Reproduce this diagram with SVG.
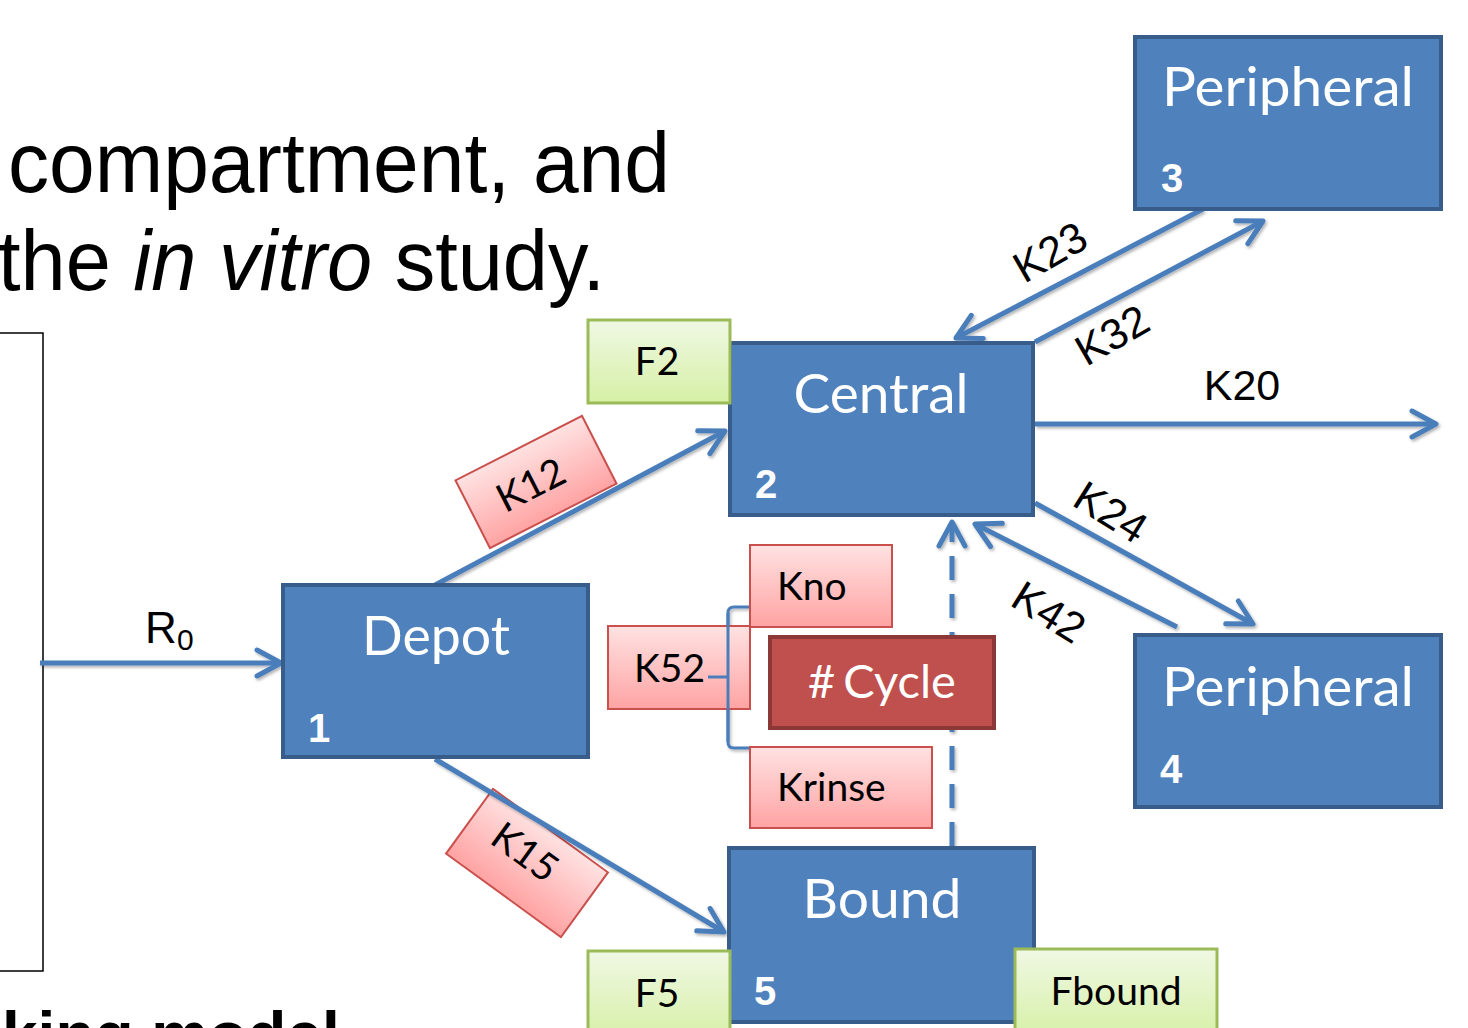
<svg xmlns="http://www.w3.org/2000/svg" width="1468" height="1028" viewBox="0 0 1468 1028">
<defs>
  <linearGradient id="gGreen" x1="0" y1="0" x2="0" y2="1">
    <stop offset="0" stop-color="#F0F8E4"/>
    <stop offset="1" stop-color="#D6F0A6"/>
  </linearGradient>
  <linearGradient id="gPink" x1="0" y1="0" x2="0" y2="1">
    <stop offset="0" stop-color="#FFE2E2"/>
    <stop offset="1" stop-color="#FFA3A3"/>
  </linearGradient>
  <filter id="shadow" x="-10%" y="-10%" width="130%" height="130%">
    <feDropShadow dx="1.5" dy="2" stdDeviation="1.5" flood-color="#000" flood-opacity="0.3"/>
  </filter>
  <marker id="arrow" markerUnits="userSpaceOnUse" markerWidth="40" markerHeight="40" viewBox="-30 -20 40 40" refX="0" refY="0" orient="auto">
    <path d="M-24,-13 L0,0 L-24,13" fill="none" stroke="#4A7EBB" stroke-width="5" stroke-linecap="round" stroke-linejoin="round"/>
  </marker>
</defs>
<style>
  .blue rect { fill:#4F81BD; stroke:#385D8A; stroke-width:4; }
  .title { font-family:"Lato","Open Sans",sans-serif; font-size:54px; fill:#fff; text-anchor:middle; }
  .num { font-family:"Liberation Sans",Arial,sans-serif; font-weight:bold; font-size:40px; fill:#fff; }
  .green rect { fill:url(#gGreen); stroke:#9BBB59; stroke-width:3; }
  .pink rect { fill:url(#gPink); stroke:#C9504D; stroke-width:2; }
  .lbl { font-family:"Lato","Open Sans",sans-serif; font-size:39px; fill:#000; }
  .ar { font-family:"Liberation Sans",Arial,sans-serif; font-size:43px; fill:#000; }
  .big { font-family:"Liberation Sans",Arial,sans-serif; font-size:85px; fill:#000; }
  .conn path, .conn line { fill:none; stroke:#4A7EBB; stroke-width:5; }
  .dash { stroke-dasharray:24 14; }
</style>
<rect x="0" y="0" width="1468" height="1028" fill="#fff"/>

<g id="heading">
  <text class="big" x="8" y="192" textLength="662" lengthAdjust="spacingAndGlyphs">compartment, and</text>
  <text class="big" x="-2" y="290" textLength="607" lengthAdjust="spacingAndGlyphs">the <tspan font-style="italic">in vitro</tspan> study.</text>
  <text x="2" y="1057" font-family="Liberation Sans, Arial, sans-serif" font-weight="bold" font-size="64" fill="#000">king model</text>
</g>

<g id="frame" fill="none" stroke="#000" stroke-width="1.5">
  <path d="M0,333 H43 V971 H0"/>
</g>

<g id="k12" class="pink" transform="translate(536,482) rotate(-27)">
  <rect x="-71" y="-38" width="142" height="76"/>
  <text class="lbl" x="-6" y="14" text-anchor="middle">K12</text>
</g>
<g id="k15" class="pink" transform="translate(527,863) rotate(36)">
  <rect x="-71" y="-40" width="142" height="80"/>
  <text class="lbl" x="-8" y="6" text-anchor="middle">K15</text>
</g>

<g id="connectors" class="conn" filter="url(#shadow)">
  <line x1="40" y1="663" x2="281" y2="663" marker-end="url(#arrow)"/>
  <line x1="435" y1="585" x2="725" y2="431" marker-end="url(#arrow)"/>
  <line x1="435" y1="759" x2="724" y2="932" marker-end="url(#arrow)"/>
  <line x1="1203" y1="209" x2="956" y2="338" marker-end="url(#arrow)"/>
  <line x1="1035" y1="342" x2="1263" y2="221" marker-end="url(#arrow)"/>
  <line x1="1035" y1="424" x2="1436" y2="424" marker-end="url(#arrow)"/>
  <line x1="1035" y1="503" x2="1253" y2="624" marker-end="url(#arrow)"/>
  <line x1="1177" y1="627" x2="975" y2="524" marker-end="url(#arrow)"/>
  <path class="dash" d="M952,846 V522" marker-end="url(#arrow)"/>
  <path d="M708,677 H728 M750,607 H734 Q728,607 728,613 V742 Q728,748 734,748 H750" style="stroke-width:3"/>
</g>

<g id="connector-labels">
  <text x="145" y="643" font-family="Liberation Sans, Arial, sans-serif" font-size="44">R</text>
  <text x="177" y="650" font-family="Liberation Sans, Arial, sans-serif" font-size="30">0</text>
  <text class="ar" x="1242" y="400" text-anchor="middle">K20</text>
  <text class="ar" transform="translate(1050,252) rotate(-30)" x="0" y="15" text-anchor="middle">K23</text>
  <text class="ar" transform="translate(1112,335) rotate(-30)" x="0" y="15" text-anchor="middle">K32</text>
  <text class="ar" transform="translate(1111,512) rotate(32)" x="0" y="15" text-anchor="middle">K24</text>
  <text class="ar" transform="translate(1049,612) rotate(32)" x="0" y="15" text-anchor="middle">K42</text>
</g>

<g id="peripheral3" class="blue">
  <rect x="1135" y="37" width="306" height="172"/>
  <text class="title" x="1288" y="106" textLength="252" lengthAdjust="spacingAndGlyphs">Peripheral</text>
  <text class="num" x="1161" y="192">3</text>
</g>
<g id="central" class="blue">
  <rect x="730" y="343" width="303" height="172"/>
  <text class="title" x="881" y="413" textLength="175" lengthAdjust="spacingAndGlyphs">Central</text>
  <text class="num" x="755" y="498">2</text>
</g>
<g id="depot" class="blue">
  <rect x="283" y="585" width="305" height="172"/>
  <text class="title" x="436" y="655" textLength="148" lengthAdjust="spacingAndGlyphs">Depot</text>
  <text class="num" x="308" y="742">1</text>
</g>
<g id="peripheral4" class="blue">
  <rect x="1135" y="635" width="306" height="172"/>
  <text class="title" x="1288" y="706" textLength="252" lengthAdjust="spacingAndGlyphs">Peripheral</text>
  <text class="num" x="1160" y="783">4</text>
</g>
<g id="bound" class="blue">
  <rect x="729" y="848" width="305" height="174"/>
  <text class="title" x="882" y="918" textLength="159" lengthAdjust="spacingAndGlyphs">Bound</text>
  <text class="num" x="754" y="1005">5</text>
</g>

<g id="f2" class="green">
  <rect x="588" y="320" width="142" height="83"/>
  <text class="lbl" x="657" y="375" text-anchor="middle">F2</text>
</g>
<g id="f5" class="green">
  <rect x="588" y="951" width="142" height="90"/>
  <text class="lbl" x="657" y="1007" text-anchor="middle">F5</text>
</g>
<g id="fbound" class="green">
  <rect x="1015" y="949" width="202" height="90"/>
  <text class="lbl" x="1116" y="1005" text-anchor="middle">Fbound</text>
</g>

<g id="kno" class="pink">
  <rect x="750" y="545" width="142" height="82"/>
  <text class="lbl" x="777" y="600">Kno</text>
</g>
<g id="k52" class="pink">
  <rect x="608" y="626" width="142" height="83"/>
  <text class="lbl" x="634" y="682">K52</text>
</g>
<g id="krinse" class="pink">
  <rect x="750" y="747" width="182" height="81"/>
  <text class="lbl" x="777" y="801">Krinse</text>
</g>
<g id="cycle">
  <rect x="770" y="637" width="224" height="91" fill="#C0504D" stroke="#8C3836" stroke-width="4"/>
  <text x="882" y="698" text-anchor="middle" font-family="Lato, Open Sans, sans-serif" font-size="47" fill="#fff">#<tspan dx="8">Cycle</tspan></text>
</g>
<g id="bracket-overlay" class="conn">
  <path d="M708,677 H728 M728,613 V742" style="stroke-width:3"/>
</g>
</svg>
